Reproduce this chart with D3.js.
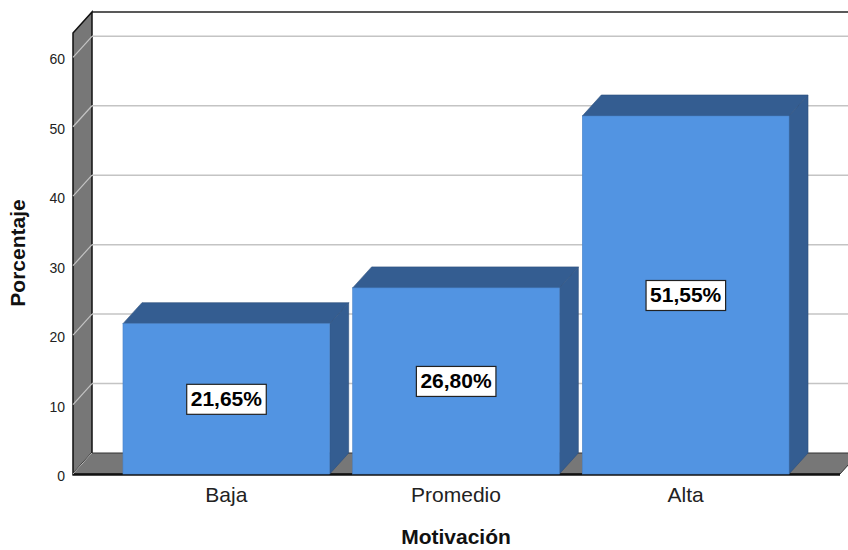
<!DOCTYPE html>
<html><head><meta charset="utf-8">
<script src="https://cdn.jsdelivr.net/npm/d3@7"></script>
<style>body{margin:0;background:#fff}svg{display:block}</style>
</head><body>
<svg id="c" width="848" height="550"></svg>
<script>
const categories = ["Baja", "Promedio", "Alta"];
const values = [21.65, 26.80, 51.55];
const valueLabels = ["21,65%", "26,80%", "51,55%"];
const yTicks = [0, 10, 20, 30, 40, 50, 60];
const xTitle = "Motivación";
const yTitle = "Porcentaje";

const svg = d3.select("#c");
const font = "'Liberation Sans', Arial, sans-serif";
const dx = 19, dy = -21;
const y = d3.scaleLinear().domain([0, 63.5]).range([474, 33]);
const x = d3.scaleBand().domain(categories).range([111.5, 800.5]).paddingInner(0.1).paddingOuter(0.05);
const wallX = 73, floorRight = 840;
const base = y(0);

// back plane
svg.append("rect").attr("x", wallX + dx).attr("y", y(63.5) + dy).attr("width", 900).attr("height", base - y(63.5)).attr("fill", "#fff");
// gridlines
const grid = svg.append("g");
yTicks.filter(t => t > 0).forEach(t => {
  grid.append("line").attr("x1", wallX + dx).attr("x2", 900).attr("y1", y(t) + dy).attr("y2", y(t) + dy)
    .attr("stroke", "#c4c4c4").attr("stroke-width", 1.5);
});
// top border of back plane
svg.append("line").attr("x1", wallX + dx).attr("x2", 900).attr("y1", y(63.5) + dy).attr("y2", y(63.5) + dy)
  .attr("stroke", "#222").attr("stroke-width", 1.5);

// left wall
svg.append("path").attr("d", d3.line()([[wallX, y(63.5)], [wallX + dx, y(63.5) + dy], [wallX + dx, base + dy], [wallX, base]]) + "Z")
  .attr("fill", "#777").attr("stroke", "#111").attr("stroke-width", 1.5);
yTicks.filter(t => t > 0).forEach(t => {
  grid.append("line").attr("x1", wallX).attr("x2", wallX + dx).attr("y1", y(t)).attr("y2", y(t) + dy)
    .attr("stroke", "#c4c4c4").attr("stroke-width", 1.2);
});
svg.node().appendChild(grid.node());
// floor
svg.append("path").attr("d", d3.line()([[wallX, base], [floorRight, base], [floorRight + dx, base + dy], [wallX + dx, base + dy]]) + "Z")
  .attr("fill", "#777").attr("stroke", "#333").attr("stroke-width", 1);
svg.append("line").attr("x1", wallX).attr("x2", floorRight).attr("y1", base + 0.5).attr("y2", base + 0.5)
  .attr("stroke", "#111").attr("stroke-width", 2.5);
svg.append("line").attr("x1", wallX).attr("x2", wallX + dx).attr("y1", base).attr("y2", base + dy)
  .attr("stroke", "#bbb").attr("stroke-width", 1);

// bars
const front = "#5294e2", dark = "#345d91";
const bw = x.bandwidth();
const bars = svg.append("g");
categories.forEach((c, i) => {
  const x0 = x(c), yt = y(values[i]);
  bars.append("path").attr("d", d3.line()([[x0 + bw, yt], [x0 + bw + dx, yt + dy], [x0 + bw + dx, base + dy], [x0 + bw, base]]) + "Z")
    .attr("fill", dark).attr("stroke", "#2c4f7c").attr("stroke-width", 0.6);
  bars.append("path").attr("d", d3.line()([[x0, yt], [x0 + dx, yt + dy], [x0 + bw + dx, yt + dy], [x0 + bw, yt]]) + "Z")
    .attr("fill", dark).attr("stroke", "#2c4f7c").attr("stroke-width", 0.6);
  bars.append("rect").attr("x", x0).attr("y", yt).attr("width", bw).attr("height", base - yt)
    .attr("fill", front).attr("stroke", "#4a84c8").attr("stroke-width", 0.6);
  // value label
  const cx = x0 + bw / 2, cy = (yt + base) / 2;
  const t = bars.append("text").attr("x", cx).attr("y", cy + 7.5).attr("text-anchor", "middle")
    .attr("font-family", font).attr("font-weight", "bold").attr("font-size", 21).attr("fill", "#000").text(valueLabels[i]);
  const bb = t.node().getBBox();
  bars.insert("rect", () => t.node()).attr("x", bb.x - 4).attr("y", cy - 14.5).attr("width", bb.width + 8).attr("height", 30)
    .attr("fill", "#fff").attr("stroke", "#222").attr("stroke-width", 1.2);
});

// y tick labels
svg.append("g").selectAll("text").data(yTicks).join("text")
  .attr("x", 65).attr("y", d => y(d) + 7).attr("text-anchor", "end")
  .attr("font-family", font).attr("font-size", 14).attr("fill", "#222").text(d => d);

// x category labels
svg.append("g").selectAll("text").data(categories).join("text")
  .attr("x", d => x(d) + bw / 2).attr("y", 502).attr("text-anchor", "middle")
  .attr("font-family", font).attr("font-size", 21).attr("fill", "#222").text(d => d);

// titles
svg.append("text").attr("x", 456).attr("y", 544).attr("text-anchor", "middle")
  .attr("font-family", font).attr("font-weight", "bold").attr("font-size", 21).attr("fill", "#111").text(xTitle);
svg.append("text").attr("transform", "translate(25,253) rotate(-90)").attr("text-anchor", "middle")
  .attr("font-family", font).attr("font-weight", "bold").attr("font-size", 21).attr("fill", "#111").text(yTitle);
</script>
</body></html>
